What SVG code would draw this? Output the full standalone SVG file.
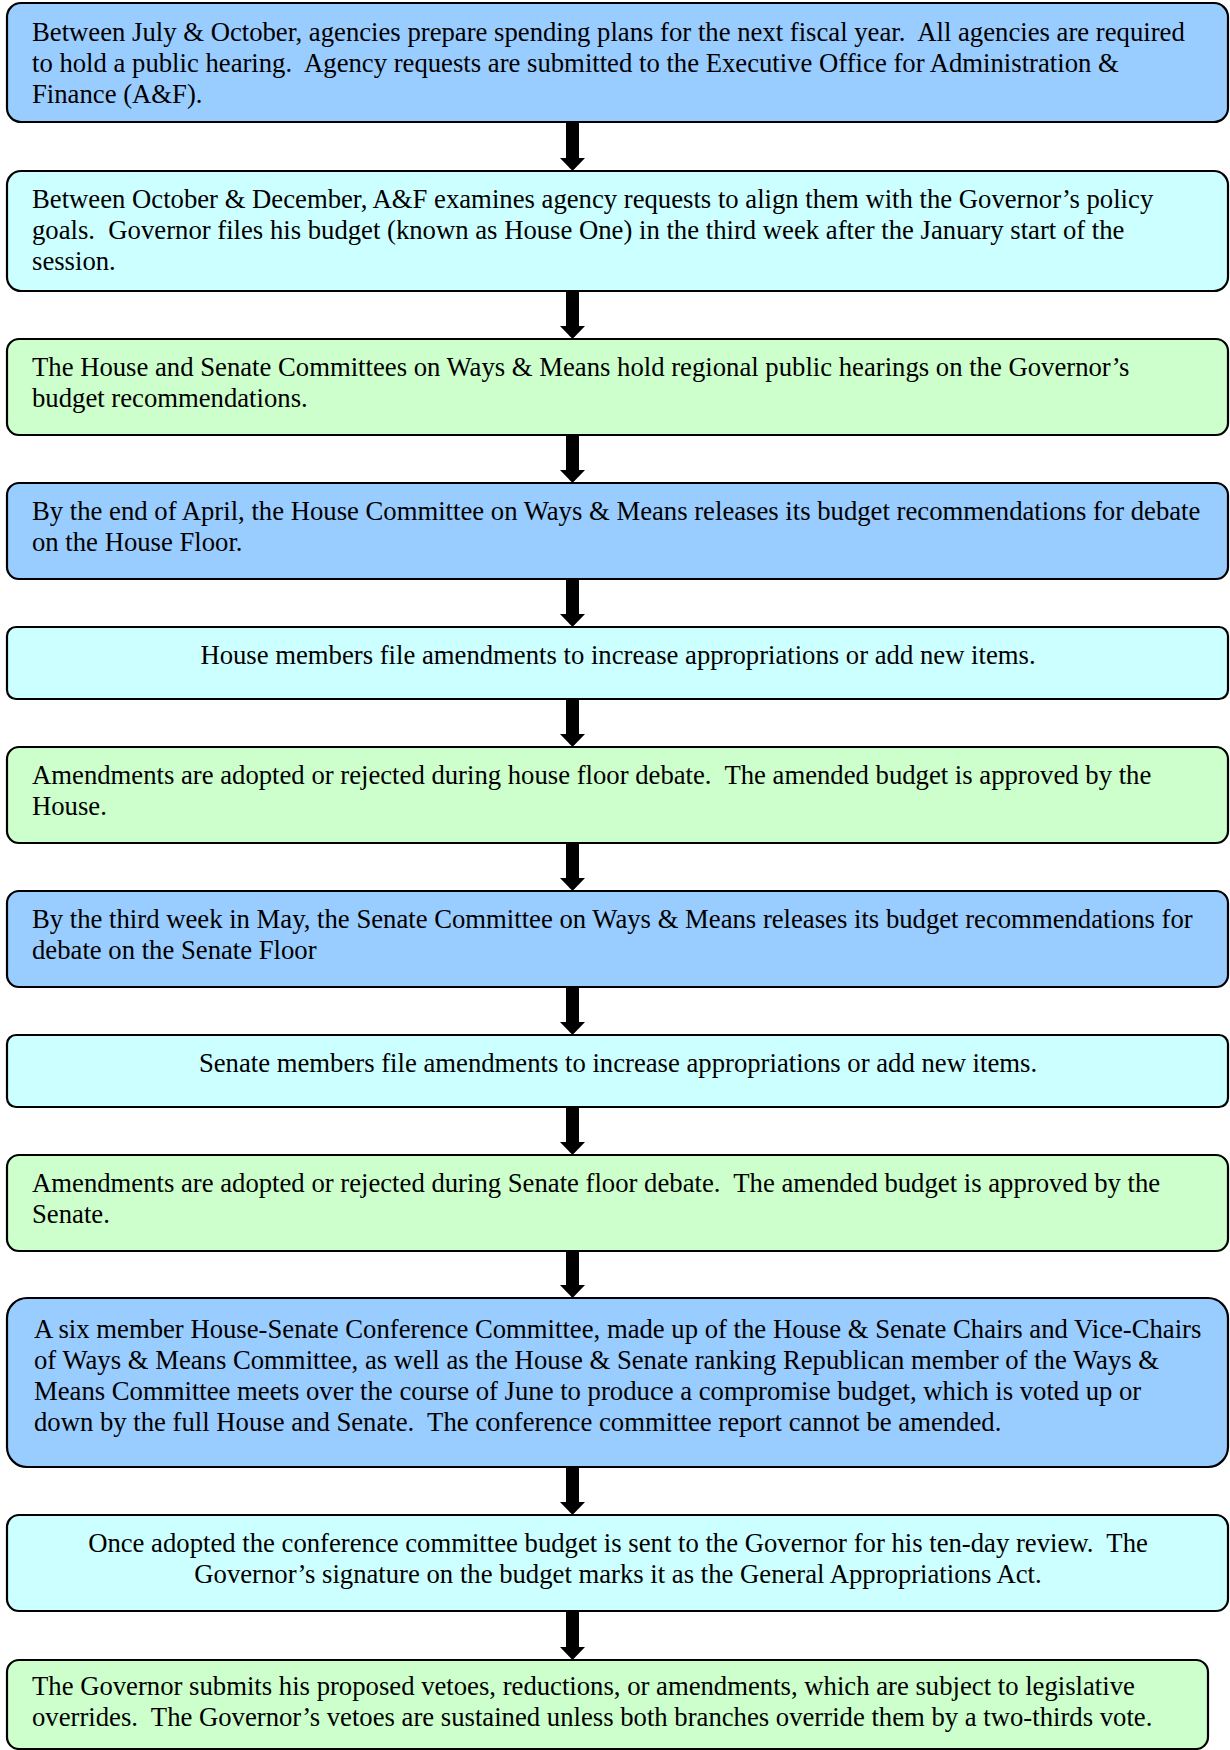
<svg xmlns="http://www.w3.org/2000/svg" width="1230" height="1750" viewBox="0 0 1230 1750">
<style>
.box{stroke:#000;stroke-width:2.2}
.blue{fill:#99CCFF}
.cyan{fill:#CCFFFF}
.green{fill:#CCFFCC}
text{font-family:"Liberation Serif","Times New Roman",serif;font-size:26.7px;fill:#000;white-space:pre}
.c{text-anchor:middle}
</style>
<defs>
<polygon id="arr" points="566,0 579,0 579,35 585,35 572.5,48 560,35 566,35" fill="#000"/>
</defs>
<rect width="1230" height="1750" fill="#fff"/>
<g id="connectors">
<use href="#arr" transform="translate(0,123)"/>
<use href="#arr" transform="translate(0,291)"/>
<use href="#arr" transform="translate(0,435)"/>
<use href="#arr" transform="translate(0,579)"/>
<use href="#arr" transform="translate(0,699)"/>
<use href="#arr" transform="translate(0,843)"/>
<use href="#arr" transform="translate(0,987)"/>
<use href="#arr" transform="translate(0,1107)"/>
<use href="#arr" transform="translate(0,1250)"/>
<use href="#arr" transform="translate(0,1467)"/>
<use href="#arr" transform="translate(0,1612)"/>
</g>
<g id="n1">
<rect class="box blue" x="7" y="3" width="1221" height="119" rx="14"/>
<text x="32" y="41">Between July &amp; October, agencies prepare spending plans for the next fiscal year.  All agencies are required</text>
<text x="32" y="72">to hold a public hearing.  Agency requests are submitted to the Executive Office for Administration &amp;</text>
<text x="32" y="103">Finance (A&amp;F).</text>
</g>
<g id="n2">
<rect class="box cyan" x="7" y="171" width="1221" height="120" rx="14"/>
<text x="32" y="208">Between October &amp; December, A&amp;F examines agency requests to align them with the Governor’s policy</text>
<text x="32" y="239">goals.  Governor files his budget (known as House One) in the third week after the January start of the</text>
<text x="32" y="270">session.</text>
</g>
<g id="n3">
<rect class="box green" x="7" y="339" width="1221" height="96" rx="12"/>
<text x="32" y="376">The House and Senate Committees on Ways &amp; Means hold regional public hearings on the Governor’s</text>
<text x="32" y="407">budget recommendations.</text>
</g>
<g id="n4">
<rect class="box blue" x="7" y="483" width="1221" height="96" rx="12"/>
<text x="32" y="520">By the end of April, the House Committee on Ways &amp; Means releases its budget recommendations for debate</text>
<text x="32" y="551">on the House Floor.</text>
</g>
<g id="n5">
<rect class="box cyan" x="7" y="627" width="1221" height="72" rx="9"/>
<text class="c" x="618" y="664">House members file amendments to increase appropriations or add new items.</text>
</g>
<g id="n6">
<rect class="box green" x="7" y="747" width="1221" height="96" rx="12"/>
<text x="32" y="784">Amendments are adopted or rejected during house floor debate.  The amended budget is approved by the</text>
<text x="32" y="815">House.</text>
</g>
<g id="n7">
<rect class="box blue" x="7" y="891" width="1221" height="96" rx="12"/>
<text x="32" y="928">By the third week in May, the Senate Committee on Ways &amp; Means releases its budget recommendations for</text>
<text x="32" y="959">debate on the Senate Floor</text>
</g>
<g id="n8">
<rect class="box cyan" x="7" y="1035" width="1221" height="72" rx="9"/>
<text class="c" x="618" y="1072">Senate members file amendments to increase appropriations or add new items.</text>
</g>
<g id="n9">
<rect class="box green" x="7" y="1155" width="1221" height="96" rx="12"/>
<text x="32" y="1192">Amendments are adopted or rejected during Senate floor debate.  The amended budget is approved by the</text>
<text x="32" y="1223">Senate.</text>
</g>
<g id="n10">
<rect class="box blue" x="7" y="1298" width="1221" height="169" rx="20"/>
<text x="34" y="1338">A six member House-Senate Conference Committee, made up of the House &amp; Senate Chairs and Vice-Chairs</text>
<text x="34" y="1369">of Ways &amp; Means Committee, as well as the House &amp; Senate ranking Republican member of the Ways &amp;</text>
<text x="34" y="1400">Means Committee meets over the course of June to produce a compromise budget, which is voted up or</text>
<text x="34" y="1431">down by the full House and Senate.  The conference committee report cannot be amended.</text>
</g>
<g id="n11">
<rect class="box cyan" x="7" y="1515" width="1221" height="96" rx="12"/>
<text class="c" x="618" y="1552">Once adopted the conference committee budget is sent to the Governor for his ten-day review.  The</text>
<text class="c" x="618" y="1583">Governor’s signature on the budget marks it as the General Appropriations Act.</text>
</g>
<g id="n12">
<rect class="box green" x="7" y="1660" width="1201" height="89" rx="12"/>
<text x="32" y="1695">The Governor submits his proposed vetoes, reductions, or amendments, which are subject to legislative</text>
<text x="32" y="1726">overrides.  The Governor’s vetoes are sustained unless both branches override them by a two-thirds vote.</text>
</g>
</svg>
